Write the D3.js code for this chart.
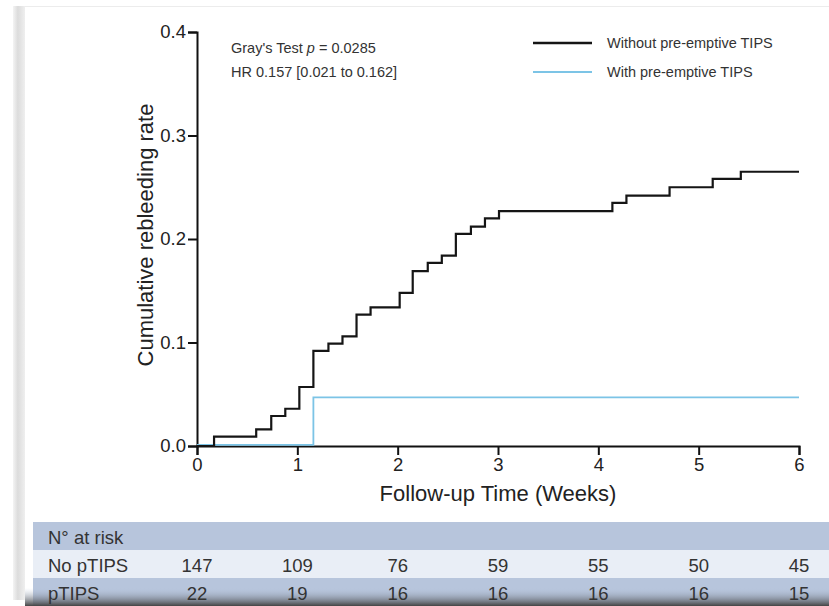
<!DOCTYPE html>
<html>
<head>
<meta charset="utf-8">
<script src="https://cdn.jsdelivr.net/npm/d3@7"></script>
<style>
  body { margin: 0; background: #fff; }
  svg text { font-family: "Liberation Sans", Arial, sans-serif; }
</style>
</head>
<body>
<div id="chart"></div>
<script>
// step times (weeks) and cumulative rates
const noTipsTimes = [0, 0.17, 0.59, 0.74, 0.88, 1.02, 1.16, 1.31, 1.45, 1.59, 1.73, 2.02, 2.15, 2.30, 2.44, 2.58, 2.73, 2.87, 3.01, 4.14, 4.28, 4.71, 5.14, 5.42, 6];
const noTipsRates = [0, 0.009, 0.016, 0.029, 0.036, 0.057, 0.092, 0.099, 0.106, 0.127, 0.134, 0.148, 0.169, 0.177, 0.184, 0.205, 0.212, 0.220, 0.227, 0.235, 0.242, 0.250, 0.258, 0.265, 0.265];
const tipsTimes = [0, 1.16, 6];
const tipsRates = [0.001, 0.047, 0.047];

const xTicks = [0, 1, 2, 3, 4, 5, 6];
const yTicks = [0, 0.1, 0.2, 0.3, 0.4];
const riskGroups = ['No pTIPS', 'pTIPS'];
const riskNoTips = [147, 109, 76, 59, 55, 50, 45];
const riskTips = [22, 19, 16, 16, 16, 16, 15];

const w = 829, h = 606;
const svg = d3.select('#chart').append('svg').attr('width', w).attr('height', h);

// frame decoration
const defs = svg.append('defs');
const lg = defs.append('linearGradient').attr('id', 'leftbar');
lg.append('stop').attr('offset', '0%').attr('stop-color', '#f4f4f4');
lg.append('stop').attr('offset', '40%').attr('stop-color', '#dcdcdc');
lg.append('stop').attr('offset', '100%').attr('stop-color', '#efefef');
const bg = defs.append('linearGradient').attr('id', 'bottombar').attr('x2', 0).attr('y2', 1);
bg.append('stop').attr('offset', '0%').attr('stop-color', '#b7c5dc').attr('stop-opacity', 0);
bg.append('stop').attr('offset', '100%').attr('stop-color', '#444');

svg.append('line').attr('x1', 20).attr('x2', w).attr('y1', 6.5).attr('y2', 6.5)
   .attr('stroke', '#ececec').attr('stroke-width', 1);
svg.append('rect').attr('x', 13).attr('y', 6).attr('width', 12).attr('height', 594)
   .attr('fill', 'url(#leftbar)');

const x = d3.scaleLinear().domain([0, 6]).range([197, 799]);
const y = d3.scaleLinear().domain([0, 0.4]).range([446, 32]);

// axes
const xAxis = svg.append('g')
   .attr('transform', `translate(0, ${y(0)})`)
   .call(d3.axisBottom(x).tickValues(xTicks).tickFormat(d3.format('d')).tickSizeOuter(0).tickSize(9));
const yAxis = svg.append('g')
   .attr('transform', `translate(${x(0)}, 0)`)
   .call(d3.axisLeft(y).tickValues(yTicks).tickFormat(d3.format('.1f')).tickSizeOuter(0).tickSize(9).tickPadding(2));

[xAxis, yAxis].forEach(g => {
  g.select('.domain').attr('stroke', '#111').attr('stroke-width', 2);
  g.selectAll('.tick line').attr('stroke', '#111').attr('stroke-width', 2);
  g.selectAll('.tick text').attr('fill', '#222').style('font-size', '18.5px');
});
xAxis.selectAll('.tick text').attr('dy', '0.72em');

svg.append('text')
   .attr('x', (x(0) + x(6)) / 2).attr('y', 501)
   .attr('text-anchor', 'middle').attr('fill', '#222').style('font-size', '22px')
   .text('Follow-up Time (Weeks)');
svg.append('text')
   .attr('transform', `translate(153, 235) rotate(-90)`)
   .attr('text-anchor', 'middle').attr('fill', '#222').style('font-size', '22px')
   .text('Cumulative rebleeding rate');

// curves
const line = d3.line().x(d => x(d[0])).y(d => y(d[1])).curve(d3.curveStepAfter);
svg.append('path')
   .datum(d3.zip(tipsTimes, tipsRates))
   .attr('d', line).attr('fill', 'none')
   .attr('stroke', '#7cc4e6').attr('stroke-width', 1.8);
svg.append('path')
   .datum(d3.zip(noTipsTimes, noTipsRates))
   .attr('d', line).attr('fill', 'none')
   .attr('stroke', '#151515').attr('stroke-width', 2.2);

// annotation
const ann = svg.append('text').attr('x', 231).attr('y', 53).attr('fill', '#333').style('font-size', '14.5px');
ann.append('tspan').text("Gray's Test ");
ann.append('tspan').style('font-style', 'italic').text('p');
ann.append('tspan').text(' = 0.0285');
svg.append('text').attr('x', 231).attr('y', 77).attr('fill', '#333').style('font-size', '14.5px')
   .text('HR 0.157 [0.021 to 0.162]');

// legend
const legend = [
  { label: 'Without pre-emptive TIPS', color: '#151515', width: 2.4, y: 43 },
  { label: 'With pre-emptive TIPS', color: '#7cc4e6', width: 1.8, y: 72 }
];
legend.forEach(l => {
  svg.append('line').attr('x1', 533).attr('x2', 592).attr('y1', l.y).attr('y2', l.y)
     .attr('stroke', l.color).attr('stroke-width', l.width);
  svg.append('text').attr('x', 607).attr('y', l.y + 5).attr('fill', '#333')
     .style('font-size', '14.5px').text(l.label);
});

// risk table
const tableX = 33;
svg.append('rect').attr('x', tableX).attr('y', 522).attr('width', w - tableX).attr('height', 28).attr('fill', '#b7c5dc');
svg.append('rect').attr('x', tableX).attr('y', 550).attr('width', w - tableX).attr('height', 28).attr('fill', '#e9eef6');
svg.append('rect').attr('x', tableX).attr('y', 578).attr('width', w - tableX).attr('height', 28).attr('fill', '#b7c5dc');
svg.append('rect').attr('x', 25).attr('y', 588).attr('width', w - 25).attr('height', 18).attr('fill', 'url(#bottombar)');

svg.append('text').attr('x', 48).attr('y', 544).attr('fill', '#333').style('font-size', '18.5px').text('N° at risk');
const rows = [riskNoTips, riskTips];
rows.forEach((vals, i) => {
  const ty = 572 + i * 28;
  svg.append('text').attr('x', 48).attr('y', ty).attr('fill', '#333').style('font-size', '18.5px').text(riskGroups[i]);
  svg.selectAll(null).data(vals).enter().append('text')
     .attr('x', (d, j) => x(xTicks[j])).attr('y', ty)
     .attr('text-anchor', 'middle').attr('fill', '#333').style('font-size', '18.5px')
     .text(d => d);
});
</script>
</body>
</html>
